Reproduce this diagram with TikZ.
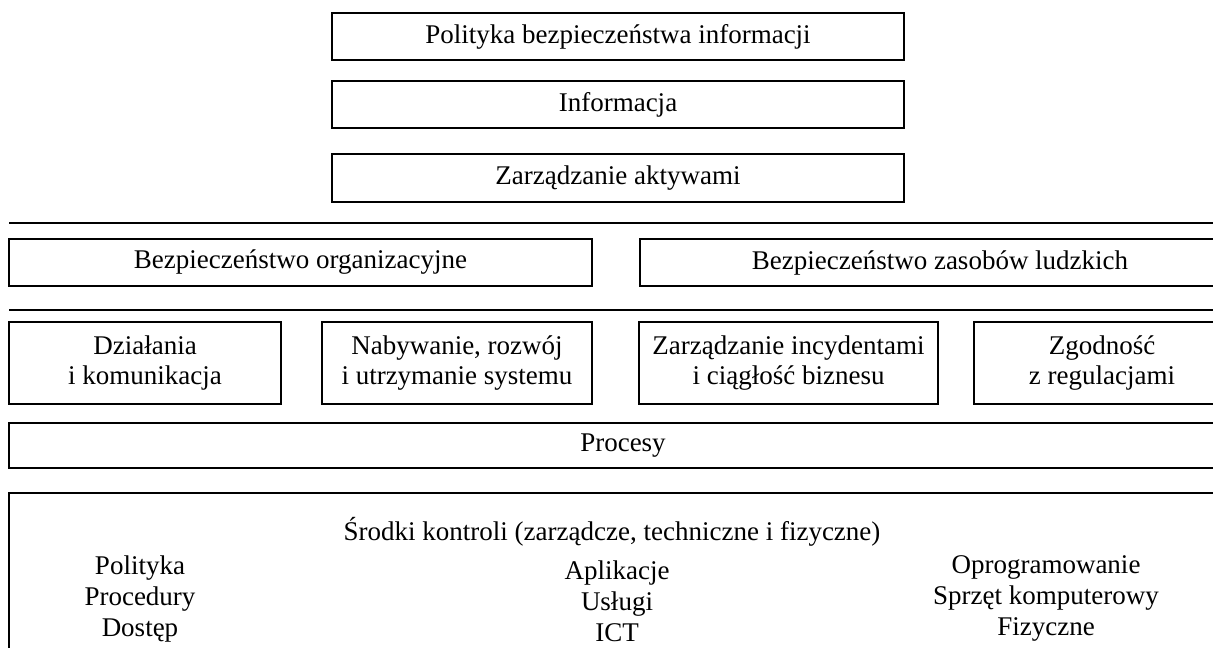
\documentclass[tikz,border=0pt]{standalone}
\usepackage{fontspec}
\setmainfont{Liberation Serif}
\begin{document}
\begin{tikzpicture}[x=1pt,y=-1pt,
  box/.style={draw, line width=1.4pt, inner sep=0pt, align=center,
    font=\fontsize{27}{29.5}\selectfont},
  lbl/.style={inner sep=0pt, align=center, font=\fontsize{27}{31}\selectfont},
  rule/.style={line width=1.4pt}]
\useasboundingbox (0,0) rectangle (1213,648);
\clip (0,0) rectangle (1213,648);

% top stack
\node[box, minimum width=572pt, minimum height=47pt] (pol) at (618,36.5) {Polityka bezpieczeństwa informacji};
\node[box, minimum width=572pt, minimum height=47pt] (inf) at (618,104.5) {Informacja};
\node[box, minimum width=572pt, minimum height=48pt] (zar) at (618,178) {Zarządzanie aktywami};

% separators
\coordinate (s1a) at (9,223);  \coordinate (s1b) at (1230,223);
\coordinate (s2a) at (9,310);  \coordinate (s2b) at (1230,310);
\draw[rule] (s1a) -- (s1b);
\draw[rule] (s2a) -- (s2b);

% organisational layer
\node[box, minimum width=583pt, minimum height=47pt] (org) at (300.5,262.5) {Bezpieczeństwo organizacyjne};
\node[box, minimum width=600pt, minimum height=47pt] (hr) at (940,262.5) {Bezpieczeństwo zasobów ludzkich};

% domain boxes
\node[box, minimum width=272pt, minimum height=82pt] (ops) at (145,363) {Działania\\i komunikacja};
\node[box, minimum width=270pt, minimum height=82pt] (dev) at (457,363) {Nabywanie, rozwój\\i utrzymanie systemu};
\node[box, minimum width=299pt, minimum height=82pt] (inc) at (788.5,363) {Zarządzanie incydentami\\i ciągłość biznesu};
\node[box, minimum width=256pt, minimum height=82pt] (cmp) at (1102,363) {Zgodność\\z regulacjami};

% processes
\node[box, minimum width=1228pt, minimum height=45pt] (proc) at (623,445.5) {Procesy};

% controls
\node[box, minimum width=1206pt, minimum height=180pt] (ctl) at (612,583) {};
\node[lbl] (ctlt) at (612,532) {Środki kontroli (zarządcze, techniczne i fizyczne)};
\node[lbl] (c1) at (140,599) {Polityka\\Procedury\\Dostęp};
\node[lbl] (c2) at (617,601) {Aplikacje\\Usługi\\ICT};
\node[lbl] (c3) at (1046,598) {Oprogramowanie\\Sprzęt komputerowy\\Fizyczne};
\end{tikzpicture}
\end{document}
